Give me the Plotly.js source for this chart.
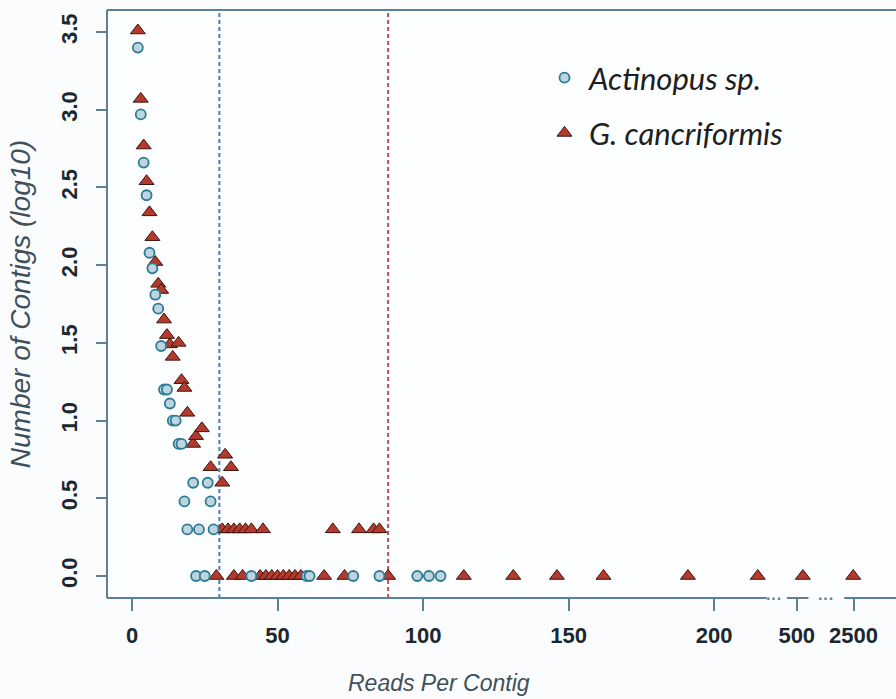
<!DOCTYPE html>
<html><head><meta charset="utf-8">
<script src="https://cdn.plot.ly/plotly-3.0.1.min.js"></script>
<style>html,body{margin:0;padding:0;background:#fbfcfe;} #chart{width:896px;height:699px;}</style>
</head><body><div id="chart"></div>
<script>
// Reads per contig (x) vs log10(number of contigs) (y)
const actinopusReads = [2,3,4,5,6,7,8,9,10,11,12,13,14,15,16,17,18,19,21,22,23,25,26,27,28,41,60,61,76,85,98,102,106];
const actinopusLogCount = [3.40,2.97,2.66,2.45,2.08,1.98,1.81,1.72,1.48,1.20,1.20,1.11,1.00,1.00,0.85,0.85,0.48,0.30,0.60,0,0.30,0,0.60,0.48,0.30,0,0,0,0,0,0,0,0];

// the last two G. cancriformis points sit on the broken part of the axis (500 and 2500 reads)
const gcancReads = [2,3,4,5,6,7,8,9,10,11,12,13,14,16,17,18,19,21,22,24,27,29,31,31,32,33,34,35,35,37,38,39,41,44,45,46,48,50,52,54,56,58,66,69,73,78,83,85,88,114,131,146,162,191,215,230.5,247.8];
const gcancLogCount = [3.51,3.07,2.77,2.54,2.34,2.18,2.02,1.88,1.84,1.65,1.55,1.49,1.41,1.50,1.26,1.21,1.05,0.85,0.90,0.95,0.70,0,0.60,0.30,0.78,0.30,0.70,0.30,0,0.30,0,0.30,0.30,0,0.30,0,0,0,0,0,0,0,0,0.30,0,0.30,0.30,0.30,0,0,0,0,0,0,0,0,0];

const xTickVals = [0,50,100,150,200,228.4,247.9];
const xTickText = ['0','50','100','150','200','500','2500'];
const yTickVals = [0,0.5,1,1.5,2,2.5,3,3.5];
const thresholds = [30, 88];
const seriesNames = ['Actinopus sp.', 'G. cancriformis'];

const axisColor = '#5d7f97';
const X0 = -8.6, X1 = 262.5;
const tickFont = {family:'Liberation Sans, Arial, sans-serif', size:22, color:'#1c2830', weight:'bold'};

const traces = [
  {x: gcancReads, y: gcancLogCount, name: seriesNames[1], type:'scatter', mode:'markers',
   legendrank: 2, legendgroup:'g',
   marker:{symbol:'triangle-up', size:13, color:'#b33a2c', line:{color:'#3d1510', width:1}}},
  {x: actinopusReads, y: actinopusLogCount, name: seriesNames[0], type:'scatter', mode:'markers',
   legendrank: 1, legendgroup:'a',
   marker:{symbol:'circle', size:10, color:'#bcd5de', line:{color:'#2c7b96', width:1.8}}}
];

const shapes = [
  {type:'line', xref:'paper', yref:'paper', x0:0, x1:0, y0:0, y1:1, line:{color:axisColor, width:2}},
  {type:'line', xref:'paper', yref:'paper', x0:0, x1:1, y0:1, y1:1, line:{color:axisColor, width:2}},
  {type:'line', xref:'x', yref:'paper', x0:X0, x1:218.1, y0:0, y1:0, line:{color:axisColor, width:2}},
  {type:'line', xref:'x', yref:'paper', x0:225, x1:232.4, y0:0, y1:0, line:{color:axisColor, width:2}},
  {type:'line', xref:'x', yref:'paper', x0:244.7, x1:X1, y0:0, y1:0, line:{color:axisColor, width:2}},
  {type:'line', xref:'x', yref:'paper', x0:thresholds[0], x1:thresholds[0], y0:0, y1:1, layer:'below',
   line:{color:'#4b7db6', width:2, dash:'4px,3px'}},
  {type:'line', xref:'x', yref:'paper', x0:thresholds[1], x1:thresholds[1], y0:0, y1:1, layer:'below',
   line:{color:'#a8584e', width:2, dash:'4px,3px'}}
];

const annotations = [
  {text:'Reads Per Contig', xref:'paper', yref:'paper', x:(439-107)/789, y:(598-683)/588,
   xanchor:'center', yanchor:'middle', showarrow:false,
   font:{family:'Liberation Sans, Arial, sans-serif', size:23, style:'italic', color:'#3f505c'}},
  {text:'···', xref:'x', yref:'paper', x:220.6, y:0, xanchor:'center', yanchor:'middle', showarrow:false,
   font:{family:'Liberation Sans, Arial', size:16, weight:'bold', color:axisColor}},
  {text:'···', xref:'x', yref:'paper', x:238.4, y:0, xanchor:'center', yanchor:'middle', showarrow:false,
   font:{family:'Liberation Sans, Arial', size:16, weight:'bold', color:axisColor}}
];

const layout = {
  width:896, height:699,
  margin:{l:107, r:0, t:10, b:101, pad:0},
  paper_bgcolor:'#fbfcfe', plot_bgcolor:'#fdfeff',
  showlegend:true,
  legend:{x:(540-107)/789, xanchor:'left', y:(598-51)/588, yanchor:'top',
    bgcolor:'rgba(0,0,0,0)', tracegroupgap:12, itemwidth:39,
    font:{family:'Lato, sans-serif', size:31, style:'italic', color:'#1e1e1e'}},
  xaxis:{range:[X0, X1], tickvals:xTickVals, ticktext:xTickText, ticks:'outside', ticklen:12,
    tickwidth:2, tickcolor:axisColor, showgrid:false, zeroline:false, showline:false,
    tickfont:tickFont, automargin:false, ticklabelstandoff:6},
  yaxis:{range:[-0.1415, 3.642], tickvals:yTickVals, tickformat:'.1f', ticks:'outside', ticklen:10,
    tickwidth:2, tickcolor:axisColor, tickangle:-90, showgrid:false, zeroline:false, showline:false,
    tickfont:tickFont, automargin:false, ticklabelstandoff:10,
    title:{text:'Number of Contigs (log10)', standoff:18,
      font:{family:'Liberation Sans, Arial, sans-serif', size:28, style:'italic', color:'#3f505c'}}},
  shapes:shapes, annotations:annotations
};

Plotly.newPlot('chart', traces, layout, {displayModeBar:false, staticPlot:true});
</script></body></html>
